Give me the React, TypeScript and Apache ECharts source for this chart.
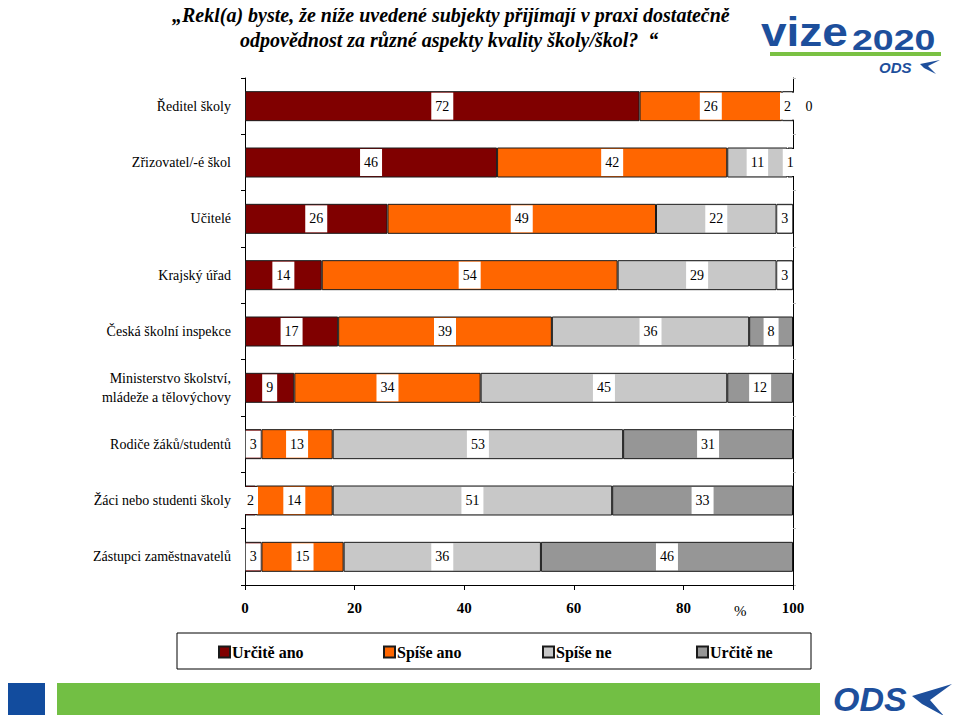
import React, { useEffect, useRef } from "react";
import * as echarts from "echarts";

const categories = [
  "Ředitel školy",
  "Zřizovatel/-é škol",
  "Učitelé",
  "Krajský úřad",
  "Česká školní inspekce",
  "Ministerstvo školství,\nmládeže a tělovýchovy",
  "Rodiče žáků/studentů",
  "Žáci nebo studenti školy",
  "Zástupci zaměstnavatelů",
];
const seriesNames = ["Určitě ano", "Spíše ano", "Spíše ne", "Určitě ne"];
const urciteAno = [72, 46, 26, 14, 17, 9, 3, 2, 3];
const spiseAno = [26, 42, 49, 54, 39, 34, 13, 14, 15];
const spiseNe = [2, 11, 22, 29, 36, 45, 53, 51, 36];
const urciteNe = [0, 1, 3, 3, 8, 12, 31, 33, 46];
const xTicks = [0, 20, 40, 60, 80, 100];
const colors = ["#800000", "#FF6600", "#C8C8C8", "#969696"];
const titleLines = [
  "„Řekl(a) byste, že níže uvedené subjekty přijímají v praxi dostatečně",
  "odpovědnost za různé aspekty kvality školy/škol?  “",
];

const SERIF = "Liberation Serif";
const SANS = "Liberation Sans";

const txt = (
  text: string,
  left: number,
  top: number,
  size: number,
  opts: { family?: string; weight?: string; italic?: boolean; fill?: string } = {}
) => ({
  type: "text",
  left,
  top,
  style: {
    text,
    fontFamily: opts.family || SERIF,
    fontSize: size,
    fontWeight: opts.weight || "normal",
    fontStyle: opts.italic ? "italic" : "normal",
    fill: opts.fill || "#000",
  },
});

export default function App() {
  const ref = useRef<HTMLDivElement>(null);
  useEffect(() => {
    if (!ref.current) return;
    const chart = echarts.init(ref.current, null, { renderer: "svg" });
    const allData = [urciteAno, spiseAno, spiseNe, urciteNe];
    const series = allData.map((arr, i) => ({
      name: seriesNames[i],
      type: "bar",
      stack: "total",
      barWidth: 30,
      yAxisIndex: 0,
      itemStyle: { color: colors[i], borderColor: "#1a1a1a", borderWidth: 1 },
      label: {
        show: true,
        position: "inside",
        color: "#000",
        fontFamily: SERIF,
        fontSize: 14,
        backgroundColor: "#fff",
        padding: [7, 4, 6, 4],
      },
      data: arr.map((v) =>
        v === 0
          ? {
              value: v,
              label: { position: "right", distance: 8, backgroundColor: "transparent" },
            }
          : v
      ),
    }));

    const legendPos = [218, 383, 542, 696];
    const blue = "#1d4f9c";
    chart.setOption({
      animation: false,
      textStyle: { fontFamily: SERIF },
      grid: { left: 245, right: 167, top: 78, bottom: 138, containLabel: false },
      xAxis: {
        type: "value",
        min: 0,
        max: 100,
        interval: 20,
        axisLine: { show: true, lineStyle: { color: "#000", width: 1 } },
        axisTick: { show: true, length: 5, lineStyle: { color: "#000" } },
        splitLine: { show: false },
        axisLabel: {
          margin: 15,
          color: "#000",
          fontFamily: SERIF,
          fontWeight: "bold",
          fontSize: 15,
          formatter: (v: number) => (xTicks.includes(v) ? String(v) : ""),
        },
      },
      yAxis: [
        {
          type: "category",
          inverse: true,
          data: categories,
          axisLine: { show: true, lineStyle: { color: "#000", width: 1 } },
          axisTick: { show: true, length: 4, lineStyle: { color: "#000" } },
          axisLabel: {
            margin: 14,
            color: "#000",
            fontFamily: SERIF,
            fontSize: 14,
            lineHeight: 19,
            align: "right",
          },
        },
        {
          type: "category",
          inverse: true,
          position: "right",
          data: categories,
          axisLine: { show: true, lineStyle: { color: "#000", width: 1 } },
          axisTick: { show: true, length: 3, lineStyle: { color: "#bbb" } },
          axisLabel: { show: false },
        },
      ],
      legend: seriesNames.map((n, i) => ({
        data: [n],
        left: legendPos[i],
        top: 644,
        itemWidth: 11,
        itemHeight: 11,
        itemGap: 0,
        icon: "rect",
        padding: 0,
        textStyle: {
          fontFamily: SERIF,
          fontWeight: "bold",
          fontSize: 16,
          color: "#000",
          padding: [0, 0, 0, -3],
        },
        selectedMode: false,
      })),
      series,
      graphic: [
        txt(titleLines[0], 172, 5, 20, { weight: "bold", italic: true }),
        txt(titleLines[1], 240, 30, 20, { weight: "bold", italic: true }),
        txt("%", 734, 603, 15),
        {
          type: "rect",
          shape: { x: 177, y: 633, width: 634, height: 36 },
          style: { fill: "none", stroke: "#000", lineWidth: 1 },
          z: 0,
        },
        // top logo
        {
          type: "text",
          x: 761,
          y: 12,
          scaleX: 1.15,
          style: { text: "vize", fontFamily: SANS, fontSize: 40, fontWeight: "bold", fill: blue },
        },
        {
          type: "text",
          x: 852,
          y: 24,
          scaleX: 1.25,
          style: { text: "2020", fontFamily: SANS, fontSize: 30, fontWeight: "bold", fill: blue },
        },
        {
          type: "rect",
          shape: { x: 770, y: 52, width: 171, height: 4 },
          style: { fill: "#7ac143" },
        },
        txt("ODS", 879, 60, 15, { family: SANS, weight: "bold", italic: true, fill: blue }),
        {
          type: "polygon",
          shape: {
            points: [
              [920, 64],
              [940, 60],
              [928, 66],
              [936, 74],
              [924, 68],
            ],
          },
          style: { fill: blue },
        },
        // footer
        {
          type: "rect",
          shape: { x: 5, y: 683, width: 40, height: 38 },
          style: { fill: "#124c9e" },
        },
        {
          type: "rect",
          shape: { x: 57, y: 683, width: 763, height: 38 },
          style: { fill: "#72bf44" },
        },
        txt("ODS", 833, 682, 34, { family: SANS, weight: "bold", italic: true, fill: blue }),
        {
          type: "polygon",
          shape: {
            points: [
              [912, 696],
              [952, 684],
              [930, 700],
              [944, 716],
              [922, 704],
            ],
          },
          style: { fill: blue },
        },
      ],
    });
    return () => chart.dispose();
  }, []);
  return <div ref={ref} style={{ width: 960, height: 723, margin: -8 }} />;
}
